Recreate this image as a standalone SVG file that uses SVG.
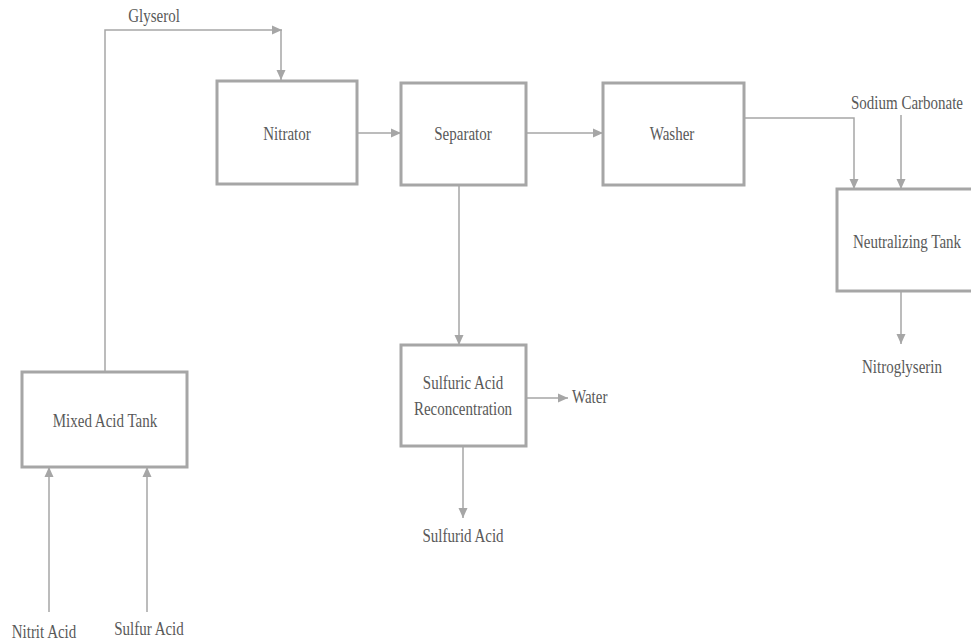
<svg xmlns="http://www.w3.org/2000/svg" width="971" height="643" viewBox="0 0 971 643">
<style>
.box{fill:#ffffff;stroke:#a6a6a6;stroke-width:3}
.ln{fill:none;stroke:#a6a6a6;stroke-width:1.5}
.t{font-family:"Liberation Serif","Times New Roman",serif;font-size:15px;fill:#595959;text-anchor:middle}
.s{text-anchor:start}
</style>
<defs>
<marker id="ah" markerUnits="userSpaceOnUse" markerWidth="12" markerHeight="12" viewBox="0 0 12 12" refX="10" refY="6" orient="auto">
<path d="M0,1.5 L10,6 L0,10.5 Z" fill="#a6a6a6"/>
</marker>
</defs>
<rect width="971" height="643" fill="#ffffff"/>
<g id="connectors">
<path class="ln" d="M105,372 V30 H282" marker-end="url(#ah)"/>
<path class="ln" d="M281,30 V80" marker-end="url(#ah)"/>
<path class="ln" d="M357,133 H401" marker-end="url(#ah)"/>
<path class="ln" d="M526,133 H603" marker-end="url(#ah)"/>
<path class="ln" d="M744,118 H854 V189" marker-end="url(#ah)"/>
<path class="ln" d="M901,115 V189" marker-end="url(#ah)"/>
<path class="ln" d="M901,291 V344" marker-end="url(#ah)"/>
<path class="ln" d="M459,185 V345" marker-end="url(#ah)"/>
<path class="ln" d="M526,398 H568" marker-end="url(#ah)"/>
<path class="ln" d="M463,446 V518" marker-end="url(#ah)"/>
<path class="ln" d="M49,612 V467" marker-end="url(#ah)"/>
<path class="ln" d="M147,612 V467" marker-end="url(#ah)"/>
</g>
<g id="label-glyserol"><text class="t" transform="translate(154,22) scale(1,1.25)">Glyserol</text></g>
<g id="nitrator">
<rect class="box" x="217" y="81" width="140" height="103"/>
<text class="t" transform="translate(287,140) scale(1,1.25)">Nitrator</text>
</g>
<g id="separator">
<rect class="box" x="401" y="83" width="125" height="102"/>
<text class="t" transform="translate(463,140) scale(1,1.25)">Separator</text>
</g>
<g id="washer">
<rect class="box" x="603" y="83" width="141" height="102"/>
<text class="t" transform="translate(672,140) scale(1,1.25)">Washer</text>
</g>
<g id="neutralizing-tank">
<rect class="box" x="837" y="189" width="145" height="102"/>
<text class="t" transform="translate(907,248) scale(1,1.25)">Neutralizing Tank</text>
</g>
<g id="label-sodium"><text class="t" transform="translate(907,109) scale(1,1.25)">Sodium Carbonate</text></g>
<g id="label-nitroglyserin"><text class="t" transform="translate(902,373) scale(1,1.25)">Nitroglyserin</text></g>
<g id="reconcentration">
<rect class="box" x="401" y="345" width="125" height="101"/>
<text class="t" transform="translate(463,389) scale(1,1.25)">Sulfuric Acid</text>
<text class="t" transform="translate(463,415) scale(1,1.25)">Reconcentration</text>
</g>
<g id="label-water"><text class="t s" transform="translate(572,403) scale(1,1.25)">Water</text></g>
<g id="label-sulfurid"><text class="t" transform="translate(463,542) scale(1,1.25)">Sulfurid Acid</text></g>
<g id="mixed-acid-tank">
<rect class="box" x="22" y="372" width="165" height="95"/>
<text class="t" transform="translate(105,427) scale(1,1.25)">Mixed Acid Tank</text>
</g>
<g id="label-nitrit"><text class="t" transform="translate(44,638) scale(1,1.25)">Nitrit Acid</text></g>
<g id="label-sulfur"><text class="t" transform="translate(149,635) scale(1,1.25)">Sulfur Acid</text></g>
</svg>
